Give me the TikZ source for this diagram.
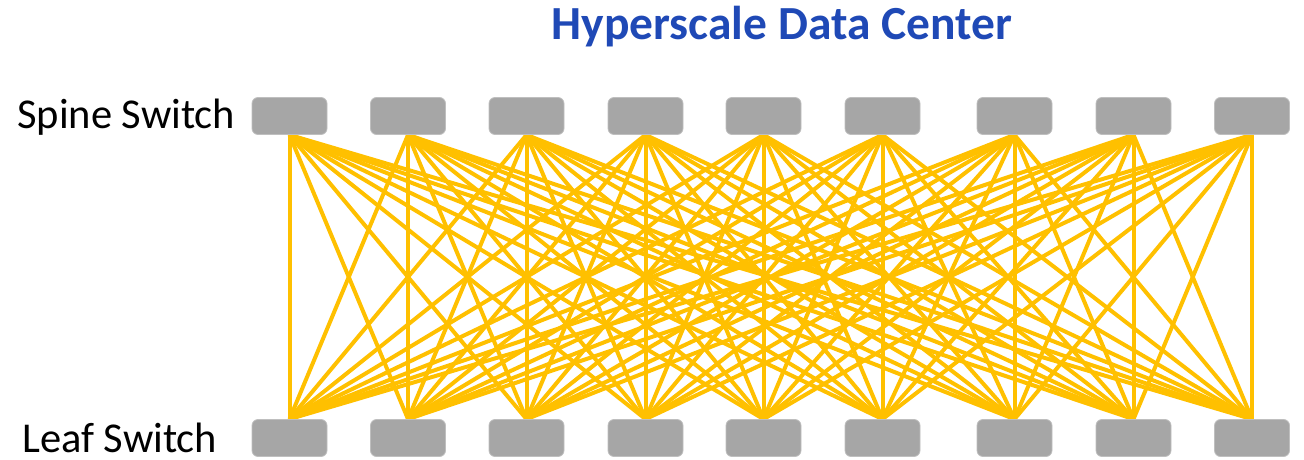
\documentclass[tikz,border=0pt]{standalone}
\usepackage{fontspec}
\setmainfont{Carlito}
\usetikzlibrary{backgrounds}
\definecolor{linkc}{HTML}{FFC000}
\definecolor{boxc}{HTML}{A6A6A6}
\definecolor{boxedge}{HTML}{BFBFBF}
\definecolor{titlec}{RGB}{31,73,182}
\tikzset{
  switchbox/.style={draw=boxedge, line width=0.8pt, fill=boxc, rounded corners=6pt,
    minimum width=75pt, minimum height=37pt, inner sep=0pt},
  link/.style={draw=linkc, line width=4pt},
  lbl/.style={anchor=base west, inner sep=0pt, text depth=0pt, font=\fontsize{42.5}{46}\selectfont},
}
\begin{document}
\begin{tikzpicture}[x=1pt,y=-1pt]
\useasboundingbox (0,0) rectangle (1304,460);
\foreach \i/\x in {1/289.5,2/408,3/526.5,4/645.5,5/763.5,6/882.5,7/1014.5,8/1133.5,9/1252}{
  \node[switchbox] (s\i) at (\x,116) {};
  \node[switchbox] (l\i) at (\x,438) {};
}
\begin{scope}[on background layer]
\foreach \i in {1,...,9}{
  \foreach \j in {1,...,9}{
    \draw[link] (s\i.south) -- (l\j.north);
  }
}
\end{scope}
\node[anchor=base, inner sep=0pt, text=titlec, font=\fontsize{47.5}{54}\selectfont\bfseries] (title) at (782,40) {Hyperscale Data Center};
\node[lbl] (spine) at (17,128) {Spine Switch};
\node[lbl] (leaf) at (22,452) {Leaf Switch};
\end{tikzpicture}
\end{document}
